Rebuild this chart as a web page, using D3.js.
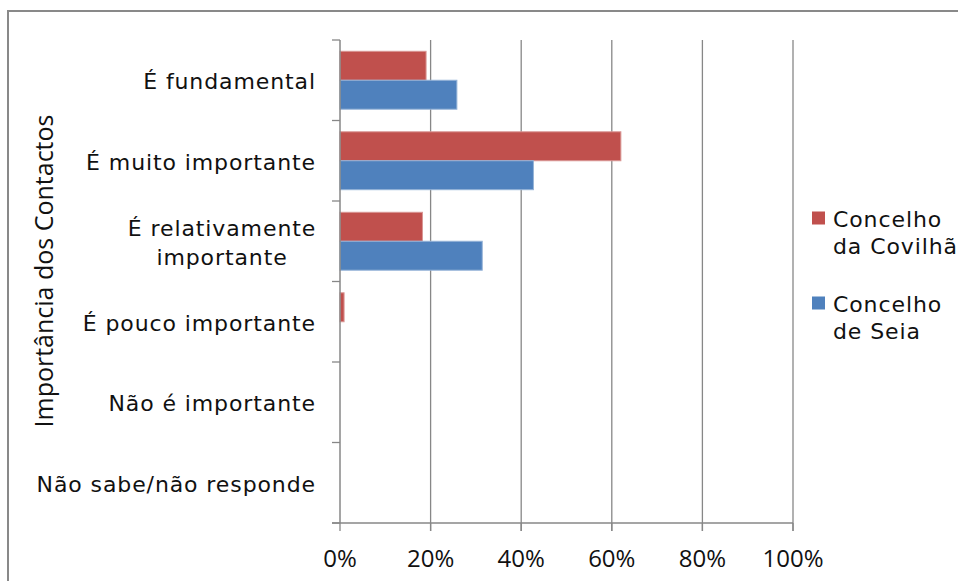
<!DOCTYPE html>
<html>
<head>
<meta charset="utf-8">
<script src="https://cdn.jsdelivr.net/npm/d3@7"></script>
<style>
    body { margin: 0; background: #fff; }
    svg { display: block; }
</style>
</head>
<body>
<div id="chart"></div>
<script>
var width = 958;
var height = 581;
var margin = { top: 40, left: 340, right: 165, bottom: 58 }

// data
var categories = ['É fundamental', 'É muito importante', 'É relativamente importante',
    'É pouco importante', 'Não é importante', 'Não sabe/não responde']
var seriesNames = ['Concelho da Covilhã', 'Concelho de Seia']
var covilha = [19.0, 62.0, 18.2, 0.9, 0, 0]
var seia = [25.8, 42.7, 31.4, 0, 0, 0]
var xTicks = [0, 20, 40, 60, 80, 100]
var colors = ['#C0504D', '#4F81BD']

var labelFont = 'DejaVu Sans'

var svg = d3.select('#chart').append('svg')
    .attr('width', width)
    .attr('height', height)

// outer chart border (cut off at right and bottom)
svg.append('rect')
    .attr('x', 8)
    .attr('y', 11)
    .attr('width', width + 20)
    .attr('height', height + 20)
    .attr('fill', 'none')
    .attr('stroke', '#898989')
    .attr('stroke-width', 2)

var x = d3.scaleLinear()
    .domain([0, 100])
    .range([margin.left, 793])

var y = d3.scaleBand()
    .domain(categories)
    .range([margin.top, 523])

var inner = d3.scaleBand()
    .domain(seriesNames)
    .range([0, y.bandwidth()])
    .paddingInner(0)
    .paddingOuter(0.39)

// gridlines
svg.append('g')
    .selectAll('line')
    .data(xTicks.slice(1))
    .join('line')
    .attr('x1', d => x(d))
    .attr('x2', d => x(d))
    .attr('y1', margin.top)
    .attr('y2', 523 + 8)
    .attr('stroke', '#878787')
    .attr('stroke-width', 1.3)

// bars
var series = [covilha, seia]
series.forEach((vals, s) => {
    svg.append('g')
        .selectAll('rect')
        .data(vals.map((v, i) => ({ cat: categories[i], v: v })).filter(d => d.v > 0))
        .join('rect')
        .attr('x', x(0))
        .attr('y', d => y(d.cat) + inner(seriesNames[s]))
        .attr('width', d => x(d.v) - x(0))
        .attr('height', inner.bandwidth())
        .attr('fill', colors[s])
        .attr('stroke', s == 0 ? '#d99694' : '#95b3d7')
        .attr('stroke-width', 1)
})

// y axis
var yAxis = svg.append('g')
    .attr('transform', 'translate(' + x(0) + ',0)')
yAxis.append('line')
    .attr('x1', 0).attr('x2', 0)
    .attr('y1', margin.top).attr('y2', 523)
    .attr('stroke', '#878787')
    .attr('stroke-width', 1.5)
yAxis.selectAll('.tk')
    .data(categories.concat(['end']))
    .join('line')
    .attr('class', 'tk')
    .attr('x1', -8).attr('x2', 0)
    .attr('y1', (d, i) => i < categories.length ? y(d) : y.range()[1])
    .attr('y2', (d, i) => i < categories.length ? y(d) : y.range()[1])
    .attr('stroke', '#878787')
    .attr('stroke-width', 1.3)

// category labels
var labelLines = {
    'É relativamente importante': ['É relativamente', 'importante']
}
categories.forEach(c => {
    var lines = labelLines[c] || [c]
    var t = svg.append('text')
        .attr('text-anchor', lines.length > 1 ? 'middle' : 'end')
        .attr('font-family', labelFont)
        .attr('font-size', '22px')
        .attr('letter-spacing', '0.9px')
        .attr('fill', '#111')
    var cy = y(c) + y.bandwidth() / 2
    lines.forEach((l, i) => {
        t.append('tspan')
            .attr('x', lines.length > 1 ? 222 : 316)
            .attr('y', cy + 9 + (i - (lines.length - 1) / 2) * 29)
            .text(l)
    })
})

// x axis
var xAxis = svg.append('g')
    .attr('transform', 'translate(0,523)')
xAxis.append('line')
    .attr('x1', x(0) - 8).attr('x2', x(100))
    .attr('stroke', '#878787')
    .attr('stroke-width', 1.5)
xAxis.selectAll('.tk')
    .data(xTicks)
    .join('line')
    .attr('class', 'tk')
    .attr('x1', d => x(d)).attr('x2', d => x(d))
    .attr('y1', 0).attr('y2', 8)
    .attr('stroke', '#878787')
    .attr('stroke-width', 1.3)
xAxis.selectAll('.lbl')
    .data(xTicks)
    .join('text')
    .attr('class', 'lbl')
    .attr('x', d => x(d))
    .attr('y', 44)
    .attr('text-anchor', 'middle')
    .attr('font-family', 'Open Sans')
    .attr('font-size', '24px')
    .attr('fill', '#111')
    .text(d => d + '%')

// y axis title
svg.append('text')
    .attr('transform', 'translate(53,271) rotate(-90)')
    .attr('text-anchor', 'middle')
    .attr('font-family', 'Open Sans')
    .attr('font-size', '25px')
    .attr('fill', '#111')
    .text('Importância dos Contactos')

// legend
var legendLines = [['Concelho', 'da Covilhã'], ['Concelho', 'de Seia']]
seriesNames.forEach((n, i) => {
    var ly = 218 + i * 85
    svg.append('rect')
        .attr('x', 812)
        .attr('y', ly - 6.5)
        .attr('width', 13)
        .attr('height', 13)
        .attr('fill', colors[i])
    var t = svg.append('text')
        .attr('font-family', labelFont)
        .attr('font-size', '22px')
        .attr('letter-spacing', '0.9px')
        .attr('fill', '#111')
    legendLines[i].forEach((l, j) => {
        t.append('tspan')
            .attr('x', 833)
            .attr('y', ly + 9 + j * 27)
            .text(l)
    })
})
</script>
</body>
</html>
